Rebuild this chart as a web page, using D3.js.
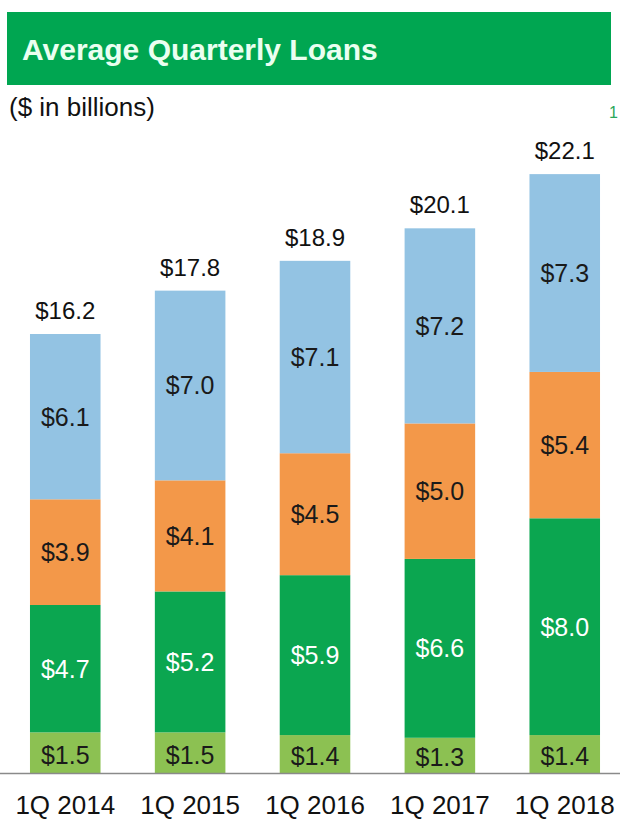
<!DOCTYPE html>
<html lang="en">
<head>
    <title>Average Quarterly Loans</title>
    <script src="https://d3js.org/d3.v7.min.js"></script>
    <style>
        body { margin: 0; background: #fff; }
        * { font-family: "Liberation Sans", Arial, sans-serif; }
        .seg-label { font-size: 25px; text-anchor: middle; }
        .total { font-size: 24px; text-anchor: middle; fill: #111; }
    </style>
</head>
<body>
<svg class="chart"></svg>
<script>
    // categories and the four stacked series (bottom to top)
    const quarters = ["1Q 2014", "1Q 2015", "1Q 2016", "1Q 2017", "1Q 2018"];
    const seriesKeys = ["s1", "s2", "s3", "s4"];
    const s1 = [1.5, 1.5, 1.4, 1.3, 1.4];   // light green
    const s2 = [4.7, 5.2, 5.9, 6.6, 8.0];   // green
    const s3 = [3.9, 4.1, 4.5, 5.0, 5.4];   // orange
    const s4 = [6.1, 7.0, 7.1, 7.2, 7.3];   // light blue
    const totals = [16.2, 17.8, 18.9, 20.1, 22.1];

    const colors = {s1: "#8cc152", s2: "#0ba650", s3: "#f39849", s4: "#93c3e3"};
    const textColors = {s1: "#1a1a1a", s2: "#ffffff", s3: "#1a1a1a", s4: "#1a1a1a"};

    const width = 620, height = 832;
    const baseY = 773;

    const svg = d3.select("svg.chart")
        .attr("width", width)
        .attr("height", height);

    // title bar
    svg.append("rect")
        .attr("x", 7).attr("y", 12)
        .attr("width", 604).attr("height", 73)
        .attr("fill", "#00a651");
    svg.append("text")
        .attr("x", 22).attr("y", 60)
        .attr("fill", "#eafff0")
        .style("font-size", "30px")
        .style("font-weight", "bold")
        .text("Average Quarterly Loans");
    svg.append("text")
        .attr("x", 9).attr("y", 116)
        .attr("fill", "#111")
        .style("font-size", "26px")
        .text("($ in billions)");
    // stray page mark on the right edge
    svg.append("text")
        .attr("x", 609).attr("y", 118)
        .attr("fill", "#2aa85a")
        .style("font-size", "16px")
        .text("1");

    const rows = quarters.map((q, i) => ({
        quarter: q, s1: s1[i], s2: s2[i], s3: s3[i], s4: s4[i], total: totals[i]
    }));

    const x = d3.scaleBand()
        .domain(quarters)
        .range([5, 625])
        .paddingInner(0.435)
        .paddingOuter(0.2);

    const y = d3.scaleLinear()
        .domain([0, 16.2])
        .range([baseY, 334]);

    const stacked = d3.stack().keys(seriesKeys)(rows);

    const layer = svg.selectAll("g.layer")
        .data(stacked)
        .enter().append("g").attr("class", "layer");

    layer.selectAll("rect")
        .data(d => d.map(v => ({key: d.key, v})))
        .enter().append("rect")
        .attr("x", d => x(d.v.data.quarter))
        .attr("width", x.bandwidth())
        .attr("y", d => y(d.v[1]))
        .attr("height", d => y(d.v[0]) - y(d.v[1]))
        .attr("fill", d => colors[d.key]);

    layer.selectAll("text")
        .data(d => d.map(v => ({key: d.key, v})))
        .enter().append("text").attr("class", "seg-label")
        .attr("x", d => x(d.v.data.quarter) + x.bandwidth() / 2)
        .attr("y", d => (y(d.v[0]) + y(d.v[1])) / 2 + (d.key === "s1" ? 2 : 0))
        .attr("dy", "0.36em")
        .attr("fill", d => textColors[d.key])
        .text(d => "$" + d3.format(".1f")(d.v.data[d.key]));

    // totals above bars
    svg.selectAll("text.total")
        .data(rows)
        .enter().append("text").attr("class", "total")
        .attr("x", d => x(d.quarter) + x.bandwidth() / 2)
        .attr("y", d => y(d.total) - 15)
        .text(d => "$" + d3.format(".1f")(d.total));

    // baseline
    svg.append("line")
        .attr("x1", 0).attr("x2", width)
        .attr("y1", baseY + 0.5).attr("y2", baseY + 0.5)
        .attr("stroke", "#8a8a8a")
        .attr("stroke-width", 1.5);

    // category labels
    const xAxis = svg.append("g")
        .attr("transform", `translate(0,${baseY})`)
        .call(d3.axisBottom(x).tickSize(0).tickPadding(23));
    xAxis.select(".domain").remove();
    xAxis.selectAll("text")
        .attr("fill", "#111")
        .style("font-size", "26px")
        .style("font-family", "'Liberation Sans', Arial, sans-serif");
</script>
</body>
</html>
